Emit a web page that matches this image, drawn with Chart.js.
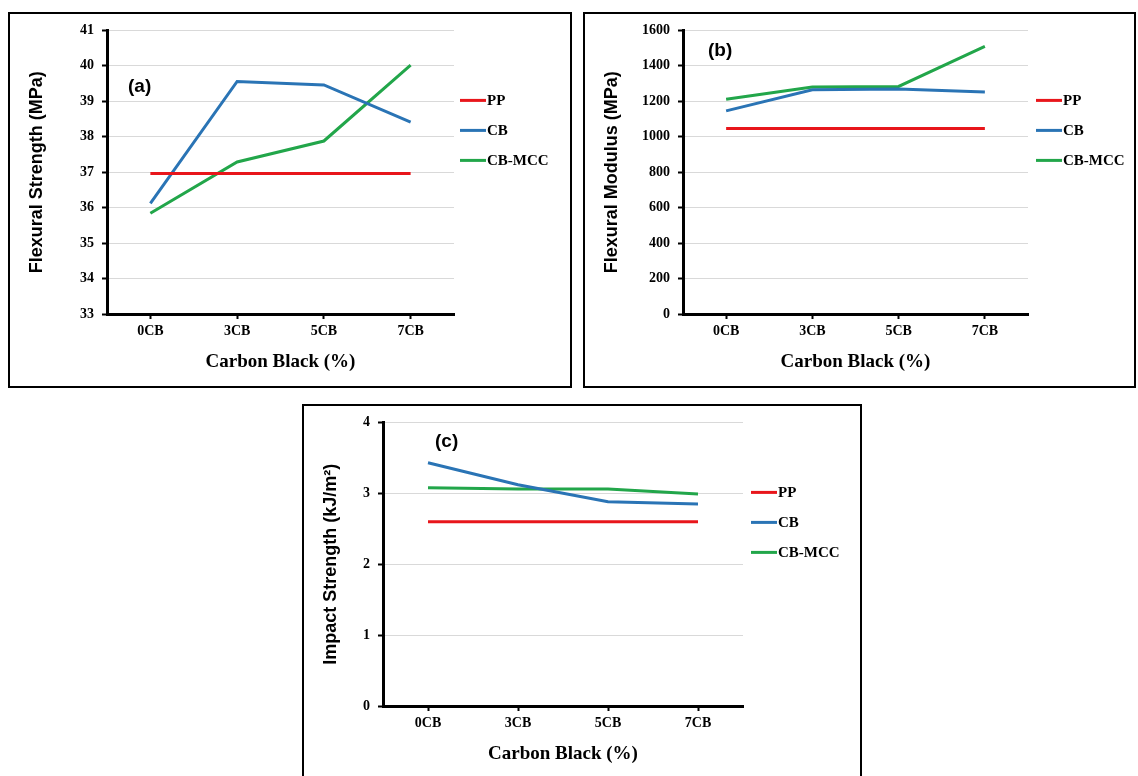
<!DOCTYPE html>
<html>
<head>
<meta charset="utf-8">
<title>Carbon Black</title>
<script src="https://cdn.jsdelivr.net/npm/chart.js@4.4.1/dist/chart.umd.min.js"></script>
<style>
  body { margin: 0; background: #fff; width: 1138px; height: 776px; overflow: hidden; position: relative; }
  .painel { position: absolute; box-sizing: border-box; border: 2px solid #000; background: #fff; }
  .painel canvas { display: block; }
  #painelA { left: 8px; top: 12px; width: 564px; height: 376px; }
  #painelB { left: 583px; top: 12px; width: 553px; height: 376px; }
  #painelC { left: 302px; top: 404px; width: 560px; height: 376px; }
</style>
</head>
<body>
<div class="painel" id="painelA"><canvas id="graficoA" width="560" height="372"></canvas></div>
<div class="painel" id="painelB"><canvas id="graficoB" width="549" height="372"></canvas></div>
<div class="painel" id="painelC"><canvas id="graficoC" width="556" height="372"></canvas></div>

<script>
// categorias e series
const categorias = ["0CB", "3CB", "5CB", "7CB"];
const nomesSeries = ["PP", "CB", "CB-MCC"];
const coresSeries = ["#e8161b", "#2a74b5", "#22a64a"];

// (a) Flexural Strength (MPa)
const resistenciaPP = [36.96, 36.96, 36.96, 36.96];
const resistenciaCB = [36.12, 39.56, 39.46, 38.41];
const resistenciaMCC = [35.84, 37.29, 37.88, 40.02];

// (b) Flexural Modulus (MPa)
const moduloPP = [1047, 1047, 1047, 1047];
const moduloCB = [1146, 1265, 1269, 1252];
const moduloMCC = [1211, 1280, 1284, 1510];

// (c) Impact Strength (kJ/m2)
const impactoPP = [2.6, 2.6, 2.6, 2.6];
const impactoCB = [3.43, 3.12, 2.88, 2.85];
const impactoMCC = [3.08, 3.06, 3.06, 2.99];

const fonteSerif = '"Liberation Serif", "Times New Roman", serif';
const fonteSans = '"Liberation Sans", Arial, sans-serif';

// legenda lateral e rotulo do painel
const legendaLateral = {
  id: "legendaLateral",
  afterDraw(chart, args, opts) {
    const { ctx, chartArea } = chart;
    ctx.save();
    ctx.fillStyle = "#000";
    ctx.textBaseline = "middle";
    ctx.textAlign = "left";
    ctx.font = "bold 19px " + fonteSans;
    ctx.fillText(opts.rotulo, chartArea.left + opts.rotuloX, chartArea.top + opts.rotuloY);

    ctx.font = "bold 15px " + fonteSerif;
    chart.data.datasets.forEach((ds, i) => {
      const y = chartArea.top + 70 + i * 30;
      const x = chartArea.right + opts.legendaX;
      ctx.strokeStyle = ds.borderColor;
      ctx.lineWidth = 3;
      ctx.beginPath();
      ctx.moveTo(x, y);
      ctx.lineTo(x + 26, y);
      ctx.stroke();
      ctx.fillText(ds.label, x + 27, y + 1);
    });
    ctx.restore();
  }
};

function criarGrafico(id, valores, cfg) {
  const ctx = document.getElementById(id).getContext("2d");
  return new Chart(ctx, {
    type: "line",
    data: {
      labels: categorias,
      datasets: valores.map((v, i) => ({
        label: nomesSeries[i],
        data: v,
        borderColor: coresSeries[i],
        backgroundColor: coresSeries[i],
        borderWidth: 3,
        pointRadius: 0,
        tension: 0,
        fill: false
      }))
    },
    options: {
      responsive: false,
      animation: false,
      layout: { padding: { top: cfg.topo, left: 0, right: cfg.direita, bottom: 0 } },
      plugins: {
        legend: { display: false },
        tooltip: { enabled: false },
        legendaLateral: { rotulo: cfg.rotulo, rotuloX: cfg.rotuloX, rotuloY: cfg.rotuloY, legendaX: cfg.legendaX }
      },
      scales: {
        x: {
          offset: true,
          afterFit(scale) { scale.height = 72; },
          grid: { display: true, drawOnChartArea: false, offset: false, tickLength: 5, tickColor: "#000", tickWidth: 2 },
          border: { color: "#000", width: 3 },
          ticks: { color: "#000", padding: 4, font: { family: fonteSerif, size: 14, weight: "bold" } },
          title: {
            display: true,
            text: "Carbon Black (%)",
            color: "#000",
            padding: { top: 4, bottom: 13 },
            font: { family: fonteSerif, size: 19, weight: "bold" }
          }
        },
        y: {
          min: cfg.min,
          max: cfg.max,
          afterFit(scale) { scale.width = cfg.largura; },
          grid: { color: "#d9d9d9", lineWidth: 1, tickLength: 5, tickColor: "#000", tickWidth: 2 },
          border: { color: "#000", width: 3 },
          ticks: {
            stepSize: cfg.passo,
            color: "#000",
            padding: 8,
            font: { family: fonteSerif, size: 14, weight: "bold" },
            callback: (valor) => String(valor)
          },
          title: {
            display: true,
            text: cfg.tituloY,
            color: "#000",
            padding: { top: 16, bottom: 0 },
            font: { family: fonteSans, size: 18, weight: "bold" }
          }
        }
      }
    },
    plugins: [legendaLateral]
  });
}

criarGrafico("graficoA", [resistenciaPP, resistenciaCB, resistenciaMCC], {
  min: 33, max: 41, passo: 1, tituloY: "Flexural Strength (MPa)",
  largura: 97, topo: 14, direita: 116,
  rotulo: "(a)", rotuloX: 21, rotuloY: 56, legendaX: 6
});

criarGrafico("graficoB", [moduloPP, moduloCB, moduloMCC], {
  min: 0, max: 1600, passo: 200, tituloY: "Flexural Modulus (MPa)",
  largura: 98, topo: 14, direita: 106,
  rotulo: "(b)", rotuloX: 25, rotuloY: 20, legendaX: 8
});

criarGrafico("graficoC", [impactoPP, impactoCB, impactoMCC], {
  min: 0, max: 4, passo: 1, tituloY: "Impact Strength (kJ/m²)",
  largura: 79, topo: 16, direita: 117,
  rotulo: "(c)", rotuloX: 52, rotuloY: 19, legendaX: 8
});
</script>
</body>
</html>
